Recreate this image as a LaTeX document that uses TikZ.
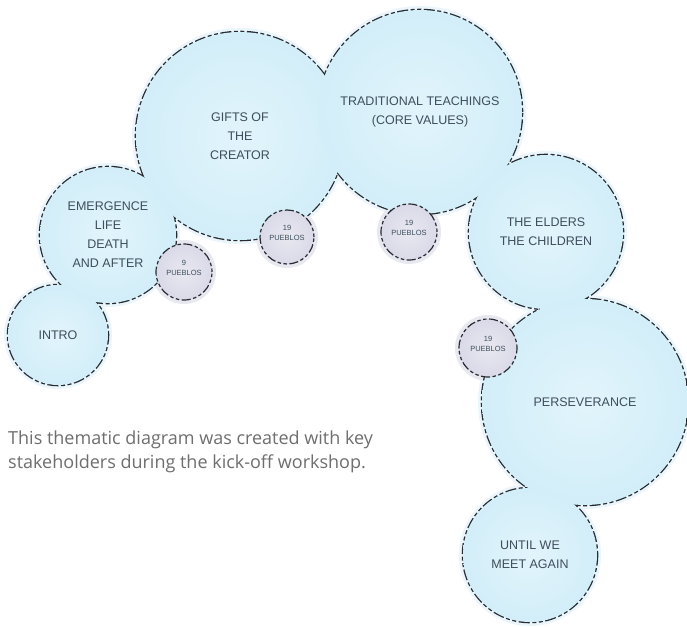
\documentclass[tikz,border=0pt]{standalone}
\usepackage{fontspec}
\setmainfont{Liberation Sans}
\newfontfamily\capfont{Open Sans}
\usetikzlibrary{backgrounds}
\pgfdeclarelayer{halo}
\pgfdeclarelayer{outl}
\pgfdeclarelayer{fills}
\pgfsetlayers{halo,outl,fills,main}
\definecolor{bubblue}{RGB}{210,238,249}
\definecolor{bubinner}{RGB}{226,244,251}
\definecolor{halocol}{RGB}{234,246,252}
\definecolor{pueblofill}{RGB}{218,217,232}
\definecolor{puebloinner}{RGB}{232,232,240}
\definecolor{inkcol}{RGB}{40,44,50}
\definecolor{textcol}{RGB}{62,78,92}
\definecolor{captcol}{RGB}{110,110,110}
\tikzset{
  outl/.style={draw=inkcol, line width=2.6pt, dash pattern=on 4pt off 2.5pt on 4pt off 2.5pt on 11pt off 2.5pt},
  bubtext/.style={text=textcol, font=\fontsize{12.5}{19}\selectfont, align=center, inner sep=0pt},
  pueblo/.style={circle, draw=inkcol, line width=1.2pt, dash pattern=on 3.5pt off 2.5pt on 3.5pt off 2.5pt on 9pt off 2.5pt,
     inner color=puebloinner, outer color=pueblofill, text=textcol, inner sep=0pt},
  pueblotext/.style={text=textcol, font=\fontsize{7.5}{9.5}\selectfont, align=center, inner sep=0pt},
  caption/.style={text=captcol, font=\capfont\fontsize{18}{24}\selectfont, align=left, inner sep=0pt, anchor=north west}
}
\newcommand\bubble[5]{%
  \begin{pgfonlayer}{halo}\fill[halocol] (#2,#3) circle[radius=#4pt+4pt];\end{pgfonlayer}
  \begin{pgfonlayer}{outl}\draw[outl] (#2,#3) circle[radius=#4pt];\end{pgfonlayer}
  \begin{pgfonlayer}{fills}\shade[inner color=bubinner, outer color=bubblue] (#2,#3) circle[radius=#4pt];\end{pgfonlayer}
  \node[bubtext] (#1) at (#2,#3) {#5};}
\newcommand\pueblo[5]{%
  \begin{pgfonlayer}{halo}\fill[puebloinner] (#2,#3) circle[radius=#4pt+4pt];\end{pgfonlayer}
  \node[pueblo, minimum size=2*#4pt] (#1) at (#2,#3) {};
  \node[pueblotext] (#1t) at ([yshift=4pt]#1.center) {#5};}
\begin{document}
\begin{tikzpicture}[x=1pt,y=-1pt]
\begin{pgfonlayer}{halo}
\fill[white] (0,0) rectangle (687,626);
\end{pgfonlayer}
\useasboundingbox (0,0) rectangle (687,626);
\bubble{intro}{58}{335}{50}{INTRO}
\bubble{emergence}{108}{235}{68}{EMERGENCE\\LIFE\\DEATH\\AND AFTER}
\bubble{gifts}{240}{136}{104}{GIFTS OF\\THE\\CREATOR}
\bubble{teach}{420}{112}{102}{TRADITIONAL TEACHINGS\\(CORE VALUES)}
\bubble{elders}{546}{232}{77}{THE ELDERS\\THE CHILDREN}
\bubble{persev}{585}{402}{103}{PERSEVERANCE}
\bubble{until}{530}{555}{67}{UNTIL WE\\MEET AGAIN}
\pueblo{p9}{184}{272}{28}{9\\PUEBLOS}
\pueblo{p19a}{287}{237}{27}{19\\PUEBLOS}
\pueblo{p19b}{409}{232}{28}{19\\PUEBLOS}
\pueblo{p19c}{488}{348}{29}{19\\PUEBLOS}
\node[caption] (cap) at (8,431) {This thematic diagram was created with key\\stakeholders during the kick-off workshop.};
\end{tikzpicture}
\end{document}
